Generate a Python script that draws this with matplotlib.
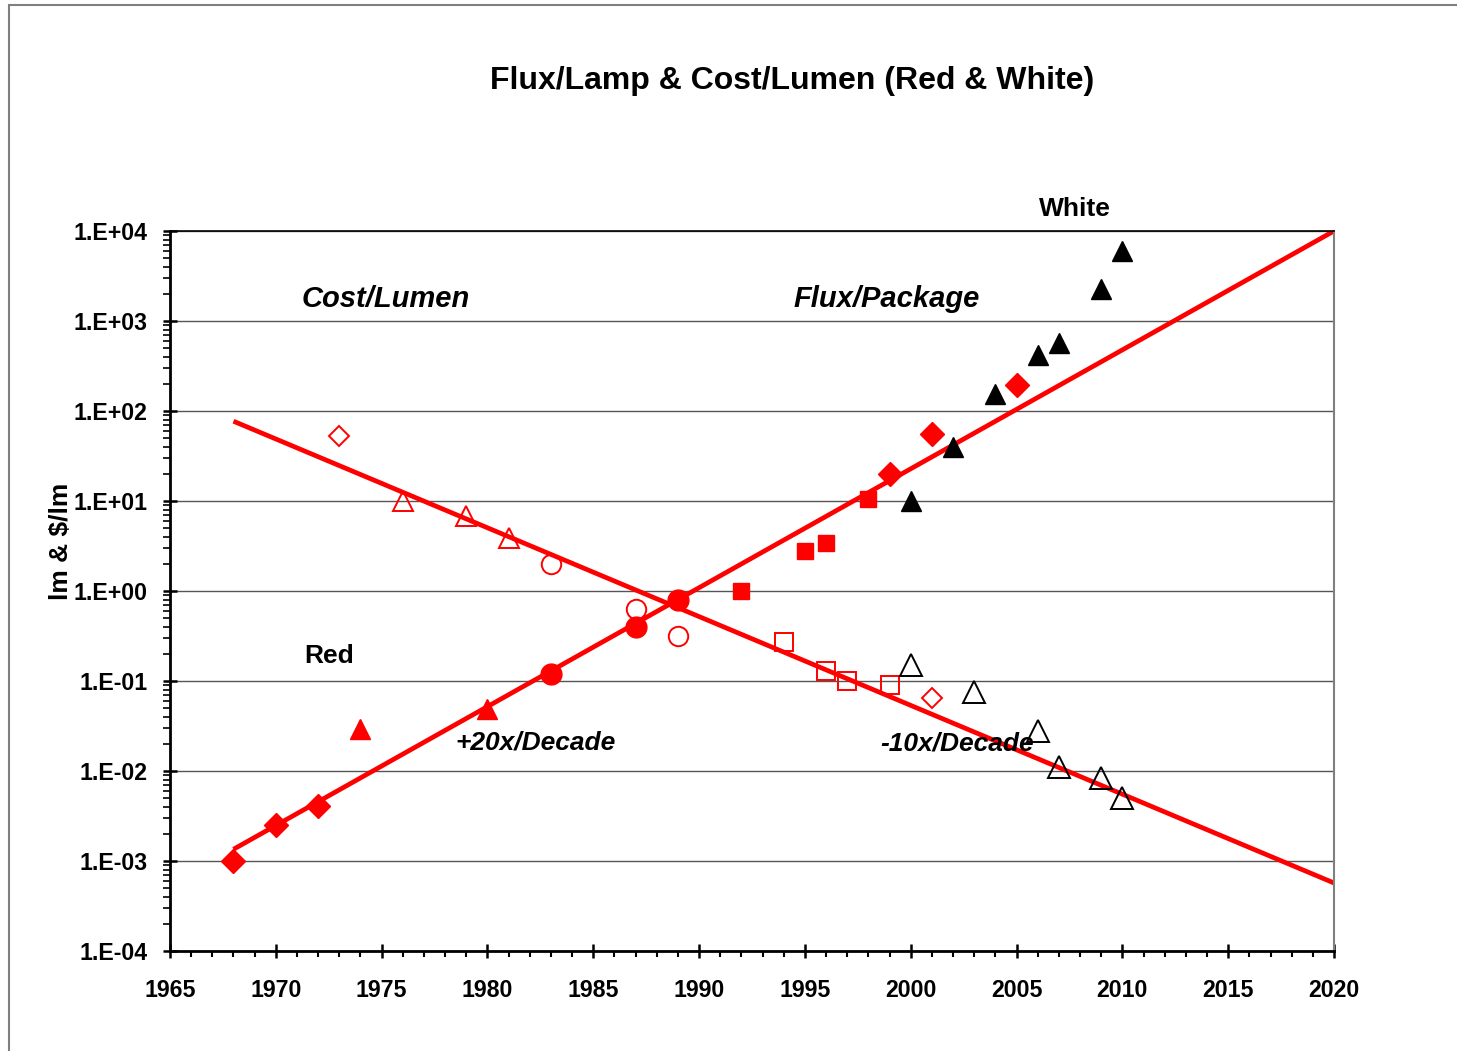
import matplotlib.pyplot as plt
from matplotlib.patches import Rectangle
from matplotlib.ticker import FixedLocator, LogLocator, NullFormatter

plt.rcParams['font.family'] = ['Liberation Sans', 'DejaVu Sans']

RED = '#ff0000'

# Flux per package (filled markers)
flux_diamond_years = [1968, 1970, 1972]
flux_diamond_vals = [1.0e-3, 2.5e-3, 4.1e-3]
flux_tri_years = [1974, 1980]
flux_tri_vals = [0.029, 0.049]
flux_circle_years = [1983, 1987, 1989]
flux_circle_vals = [0.12, 0.40, 0.79]
flux_square_years = [1992, 1995, 1996, 1998]
flux_square_vals = [1.0, 2.8, 3.4, 10.5]
flux_diamond2_years = [1999, 2001, 2005]
flux_diamond2_vals = [20, 55, 195]
white_flux_years = [2000, 2002, 2004, 2006, 2007, 2009, 2010]
white_flux_vals = [10, 40, 155, 420, 570, 2270, 6000]

# Cost per lumen (open markers)
cost_diamond_years = [1973, 2001]
cost_diamond_vals = [53, 0.065]
cost_tri_years = [1976, 1979, 1981]
cost_tri_vals = [10, 6.8, 3.9]
cost_circle_years = [1983, 1987, 1989]
cost_circle_vals = [2.0, 0.63, 0.32]
cost_square_years = [1994, 1996, 1997, 1999]
cost_square_vals = [0.27, 0.13, 0.10, 0.09]
white_cost_years = [2000, 2003, 2006, 2007, 2009, 2010]
white_cost_vals = [0.15, 0.075, 0.028, 0.011, 0.0084, 0.005]

# trend lines
trend_years = [1968, 2020]
flux_trend = [1.35e-3, 1.0e4]
cost_trend = [77, 5.7e-4]

fig = plt.figure(figsize=(14.57, 10.51), dpi=100)
ax = fig.add_axes([170 / 1457, 1 - 951 / 1051, 1164 / 1457, 720 / 1051])

# outer frame (only top and left edges visible in the original)
fig.patches.append(Rectangle((9 / 1457, -0.02), 1.2, 1 - 5 / 1051 + 0.02,
                             transform=fig.transFigure, fill=False,
                             edgecolor='#808080', linewidth=1.5))

ax.plot(trend_years, flux_trend, color=RED, lw=3.4, zorder=2, solid_capstyle='butt')
ax.plot(trend_years, cost_trend, color=RED, lw=3.4, zorder=2, solid_capstyle='butt')

# filled markers
ax.plot(flux_diamond_years, flux_diamond_vals, 'D', color=RED, ms=12, ls='none', zorder=3)
ax.plot(flux_tri_years, flux_tri_vals, '^', color=RED, ms=14, ls='none', zorder=3)
ax.plot(flux_circle_years, flux_circle_vals, 'o', color=RED, ms=15, ls='none', zorder=3)
ax.plot(flux_square_years, flux_square_vals, 's', color=RED, ms=12, ls='none', zorder=3)
ax.plot(flux_diamond2_years, flux_diamond2_vals, 'D', color=RED, ms=12, ls='none', zorder=3)
ax.plot(white_flux_years, white_flux_vals, '^', color='black', ms=15, ls='none', zorder=3)

# open markers
op = dict(ls='none', zorder=3, mfc='none', mew=1.4)
ax.plot(cost_diamond_years, cost_diamond_vals, 'D', mec=RED, ms=10, **op)
ax.plot(cost_tri_years, cost_tri_vals, '^', mec=RED, ms=14, **op)
ax.plot(cost_circle_years, cost_circle_vals, 'o', mec=RED, ms=14, **op)
ax.plot(cost_square_years, cost_square_vals, 's', mec=RED, ms=13, **op)
ax.plot(white_cost_years, white_cost_vals, '^', mec='black', ms=16, **op)

ax.set_yscale('log')
ax.set_xlim(1965, 2020)
ax.set_ylim(1e-4, 1e4)

ax.xaxis.set_major_locator(FixedLocator(range(1965, 2021, 5)))
ax.xaxis.set_minor_locator(FixedLocator(range(1965, 2021)))
ax.yaxis.set_major_locator(FixedLocator([10.0 ** k for k in range(-4, 5)]))
ax.yaxis.set_minor_locator(LogLocator(base=10, subs=range(2, 10), numticks=20))
ax.yaxis.set_minor_formatter(NullFormatter())
ax.set_yticklabels(['1.E%+03d' % k for k in range(-4, 5)])
ax.set_xticklabels([str(y) for y in range(1965, 2021, 5)])

ax.tick_params(axis='both', which='major', direction='inout', length=10, width=1.8,
               labelsize=16.7)
ax.tick_params(axis='x', which='major', pad=15)
ax.tick_params(axis='y', which='major', pad=11)
ax.tick_params(axis='x', which='minor', direction='out', length=4, width=1.5)
ax.tick_params(axis='y', which='minor', direction='out', length=5, width=1.2)
for lab in ax.get_xticklabels() + ax.get_yticklabels():
    lab.set_fontweight('bold')

ax.grid(True, which='major', axis='y', color='#555555', lw=1.0, zorder=1)
ax.spines['left'].set_linewidth(2)
ax.spines['bottom'].set_linewidth(2)
ax.spines['top'].set_color('black')
ax.spines['top'].set_linewidth(1.2)
ax.spines['right'].set_color('#808080')
ax.spines['right'].set_linewidth(1.5)

ax.set_ylabel(r'lm & \$/lm', fontsize=19, fontweight='bold')
ax.yaxis.set_label_coords(-0.083, 0.569)

fig.text(0.544, 1 - 81 / 1051, 'Flux/Lamp & Cost/Lumen (Red & White)', fontsize=23,
         fontweight='bold', ha='center', va='center')

tkw = dict(transform=ax.transAxes, ha='center', va='center', fontweight='bold', zorder=5)
ax.text(0.185, 0.905, 'Cost/Lumen', fontsize=21, style='italic', **tkw)
ax.text(0.616, 0.905, 'Flux/Package', fontsize=21, style='italic', **tkw)
ax.text(0.777, 1.031, 'White', fontsize=19, clip_on=False, **tkw)
ax.text(0.137, 0.410, 'Red', fontsize=19, **tkw)
ax.text(0.314, 0.289, '+20x/Decade', fontsize=19, style='italic', **tkw)
ax.text(0.676, 0.288, '-10x/Decade', fontsize=19, style='italic', **tkw)

fig.savefig('out.png', dpi=100)
